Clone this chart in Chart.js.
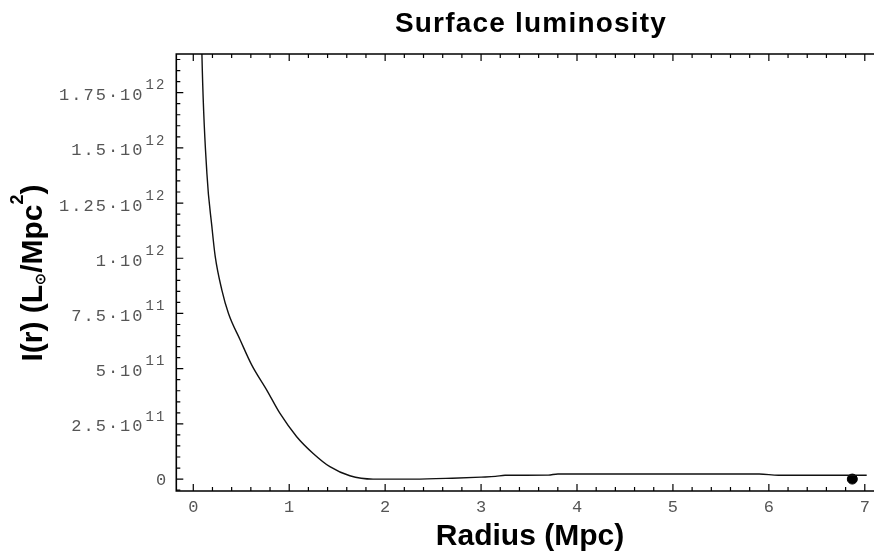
<!DOCTYPE html>
<html>
<head>
<meta charset="utf-8">
<script src="https://cdn.jsdelivr.net/npm/chart.js@4.4.1/dist/chart.umd.min.js"></script>
<style>
  html, body { margin: 0; padding: 0; background: #fff; overflow: hidden; }
  #wrap { width: 874px; height: 552px; overflow: hidden; }
</style>
</head>
<body>
<div id="wrap"><canvas id="chart" width="880" height="552"></canvas></div>
<script>
// surface luminosity profile
const radiusMpc = [0.08, 0.09, 0.142, 0.194, 0.229, 0.298, 0.367, 0.489, 0.61, 0.766, 0.904, 1.078, 1.25, 1.424, 1.632, 1.874, 2.3, 2.7, 3.0, 3.15, 3.25, 3.7, 3.8, 5.9, 6.1, 7.02];
const luminosity = [2.2e12, 1.925e12, 1.384e12, 1.143e12, 1.007e12, 8.56e11, 7.5e11, 6.3e11, 5.16e11, 4.03e11, 2.97e11, 1.92e11, 1.16e11, 5.6e10, 1.5e10, 0, 0, 4e9, 9e9, 1.2e10, 1.7e10, 1.8e10, 2.3e10, 2.3e10, 1.7e10, 1.7e10];

// single marker point
const markerR = [6.87];
const markerI = [0];

const xTicks = [0, 1, 2, 3, 4, 5, 6, 7];
const yTicks = [0, 2.5e11, 5e11, 7.5e11, 1e12, 1.25e12, 1.5e12, 1.75e12];

const X_MIN = -0.177, X_MAX = 7.096;
const Y_MIN = -5.4e10, Y_MAX = 1.925e12;

const MONO = '"Liberation Mono", "DejaVu Sans Mono", monospace';
const SANS = '"Liberation Sans", Arial, Helvetica, sans-serif';

function splitSci(v) {
  if (v === 0) return ["0", ""];
  const e = Math.floor(Math.log10(Math.abs(v)) + 1e-9);
  const m = +(v / Math.pow(10, e)).toFixed(3);
  return [String(m) + "\u00b710", String(e)];
}

// frame (right side runs off the picture), inward ticks, y labels, titles
const framePlugin = {
  id: "frame",
  afterDraw(chart) {
    const { ctx, chartArea: a } = chart;
    const xs = chart.scales.x, ys = chart.scales.y;
    ctx.save();
    ctx.strokeStyle = "#000";
    ctx.lineWidth = 1.6;
    ctx.beginPath();
    ctx.moveTo(a.right + 10, a.top); ctx.lineTo(a.left, a.top);
    ctx.lineTo(a.left, a.bottom); ctx.lineTo(a.right + 10, a.bottom);
    ctx.stroke();

    ctx.lineWidth = 1.2;
    ctx.beginPath();
    for (let i = -5; i <= 75; i++) {
      const v = i / 10;
      if (v < X_MIN || v > X_MAX || i % 2 !== 0) continue;
      const px = xs.getPixelForValue(v);
      const len = i % 10 === 0 ? 7 : 4;
      ctx.moveTo(px, a.bottom); ctx.lineTo(px, a.bottom - len);
      ctx.moveTo(px, a.top); ctx.lineTo(px, a.top + len);
    }
    for (let i = -2; i <= 40; i++) {
      const v = i * 5e10;
      if (v <= Y_MIN || v >= Y_MAX) continue;
      const py = ys.getPixelForValue(v);
      const len = i % 5 === 0 ? 7 : 4;
      ctx.moveTo(a.left, py); ctx.lineTo(a.left + len, py);
    }
    ctx.stroke();

    // y tick labels
    ctx.fillStyle = "#555";
    ctx.textBaseline = "middle";
    for (const v of yTicks) {
      const py = ys.getPixelForValue(v);
      const [mant, exp] = splitSci(v);
      const right = a.left - 10;
      ctx.letterSpacing = "2px";
      ctx.font = "17px " + MONO;
      ctx.textAlign = "right";
      if (!exp) {
        ctx.fillText(mant, right + 2, py + 1);
        continue;
      }
      ctx.font = "14px " + MONO;
      const ew = ctx.measureText(exp).width;
      ctx.textAlign = "left";
      ctx.fillText(exp, right - ew, py - 7);
      ctx.font = "17px " + MONO;
      ctx.textAlign = "right";
      ctx.fillText(mant, right - ew - 1, py + 3);
    }
    ctx.letterSpacing = "0px";

    // chart title
    ctx.fillStyle = "#000";
    ctx.textAlign = "center";
    ctx.textBaseline = "alphabetic";
    ctx.letterSpacing = "1.2px";
    ctx.font = "bold 28px " + SANS;
    ctx.fillText("Surface luminosity", 531, 32);
    ctx.letterSpacing = "0px";

    // x axis title
    ctx.font = "bold 30px " + SANS;
    ctx.fillText("Radius (Mpc)", 530, 545);

    // y axis title, rotated, with sub- and superscript
    ctx.translate(42, 273);
    ctx.rotate(-Math.PI / 2);
    ctx.textAlign = "left";
    const parts = [
      ["I(r) (L", 30, 0],
      ["\u2299", 14, 3],
      ["/Mpc", 30, 0],
      ["2", 18, -19],
      [")", 30, 0],
    ];
    let total = 0;
    for (const [t, s] of parts) {
      ctx.font = "bold " + s + "px " + SANS;
      total += ctx.measureText(t).width;
    }
    let cx = -total / 2;
    for (const [t, s, dy] of parts) {
      ctx.font = "bold " + s + "px " + SANS;
      ctx.fillText(t, cx, dy);
      cx += ctx.measureText(t).width;
    }
    ctx.restore();
  },
};

new Chart(document.getElementById("chart"), {
  type: "line",
  data: {
    datasets: [
      {
        data: radiusMpc.map((r, i) => ({ x: r, y: luminosity[i] })),
        borderColor: "#111",
        borderWidth: 1.4,
        pointRadius: 0,
        cubicInterpolationMode: "monotone",
        fill: false,
      },
      {
        type: "scatter",
        data: markerR.map((r, i) => ({ x: r, y: markerI[i] })),
        backgroundColor: "#000",
        borderColor: "#000",
        pointRadius: 5,
      },
    ],
  },
  options: {
    responsive: false,
    animation: false,
    layout: { padding: { top: 54, right: 4, left: 0, bottom: 0 } },
    plugins: { legend: { display: false }, tooltip: { enabled: false }, title: { display: false } },
    scales: {
      x: {
        type: "linear",
        min: X_MIN,
        max: X_MAX,
        afterBuildTicks: (s) => { s.ticks = xTicks.map((v) => ({ value: v })); },
        afterFit: (s) => { s.height = 61; },
        grid: { display: false, drawTicks: false },
        border: { display: false },
        ticks: {
          color: "#555",
          font: { family: MONO, size: 17 },
          padding: 6,
          maxRotation: 0,
          callback: (v) => String(v),
        },
      },
      y: {
        type: "linear",
        min: Y_MIN,
        max: Y_MAX,
        afterBuildTicks: (s) => { s.ticks = yTicks.map((v) => ({ value: v })); },
        afterFit: (s) => { s.width = 176.3; },
        grid: { display: false, drawTicks: false },
        border: { display: false },
        ticks: { display: false },
      },
    },
  },
  plugins: [framePlugin],
});
</script>
</body>
</html>
